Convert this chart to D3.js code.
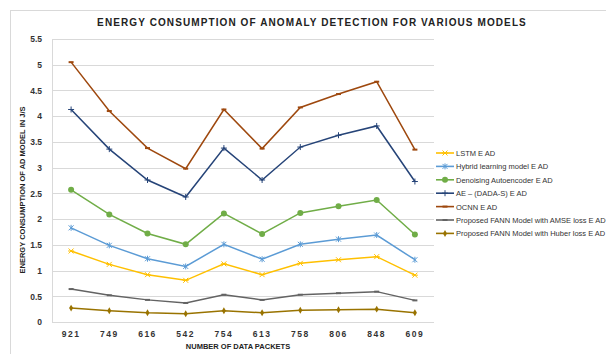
<!DOCTYPE html>
<html>
<head>
<meta charset="utf-8">
<script src="https://cdnjs.cloudflare.com/ajax/libs/d3/7.8.5/d3.min.js"></script>
<style>
  body { margin: 0; background: #fff; }
  svg { font-family: "Liberation Sans", Arial, sans-serif; }
</style>
</head>
<body>
<div id="chart"></div>
<script>
// data
const packets = ["921", "749", "616", "542", "754", "613", "758", "806", "848", "609"];
const lstm     = [1.38, 1.12, 0.92, 0.81, 1.13, 0.92, 1.14, 1.21, 1.27, 0.91];
const hybrid   = [1.83, 1.49, 1.23, 1.08, 1.51, 1.22, 1.51, 1.61, 1.69, 1.21];
const denoise  = [2.57, 2.09, 1.72, 1.51, 2.11, 1.71, 2.12, 2.25, 2.37, 1.70];
const aeDada   = [4.13, 3.36, 2.76, 2.43, 3.38, 2.76, 3.40, 3.63, 3.81, 2.73];
const ocnn     = [5.05, 4.10, 3.38, 2.98, 4.13, 3.37, 4.17, 4.43, 4.67, 3.35];
const fannAmse = [0.64, 0.52, 0.43, 0.37, 0.53, 0.43, 0.53, 0.56, 0.59, 0.42];
const fannHub  = [0.27, 0.22, 0.18, 0.16, 0.22, 0.18, 0.23, 0.24, 0.25, 0.18];
const yTicks = [0, 0.5, 1, 1.5, 2, 2.5, 3, 3.5, 4, 4.5, 5, 5.5];

const series = [
  { name: "LSTM E AD", values: lstm, color: "#ffc000", marker: "x" },
  { name: "Hybrid learning model E AD", values: hybrid, color: "#5b9bd5", marker: "star" },
  { name: "Denoising Autoencoder E AD", values: denoise, color: "#70ad47", marker: "circle" },
  { name: "AE – (DADA-S) E AD", values: aeDada, color: "#264478", marker: "plus" },
  { name: "OCNN E AD", values: ocnn, color: "#9e480e", marker: "dash" },
  { name: "Proposed FANN Model with AMSE loss E AD", values: fannAmse, color: "#636363", marker: "dash" },
  { name: "Proposed FANN Model with Huber loss E AD", values: fannHub, color: "#997300", marker: "diamond" }
];

const W = 606, H = 354;
const margin = { left: 52, right: 172, top: 39, bottom: 32 };
const width = W - margin.left - margin.right;
const height = H - margin.top - margin.bottom;

const svg = d3.select("#chart").append("svg")
  .attr("width", W)
  .attr("height", H);

// outer frame
svg.append("rect")
  .attr("x", 10.5).attr("y", 10.5)
  .attr("width", 620).attr("height", 400)
  .attr("fill", "none")
  .attr("stroke", "#d9d9d9");

svg.append("text")
  .attr("x", 312).attr("y", 26)
  .attr("text-anchor", "middle")
  .attr("font-size", "10px")
  .attr("font-weight", "bold")
  .attr("letter-spacing", "1.1px")
  .attr("fill", "#222")
  .text("ENERGY CONSUMPTION OF ANOMALY DETECTION FOR VARIOUS MODELS");

const g = svg.append("g")
  .attr("transform", "translate(" + margin.left + "," + margin.top + ")");

const x = d3.scaleBand().domain(packets).range([0, width]);
const y = d3.scaleLinear().domain([0, 5.5]).range([height, 0]);

// grid lines
g.append("g")
  .selectAll("line")
  .data(yTicks)
  .enter().append("line")
    .attr("x1", 0).attr("x2", width)
    .attr("y1", d => Math.round(y(d)) + 0.5)
    .attr("y2", d => Math.round(y(d)) + 0.5)
    .attr("stroke", "#d9d9d9");

// y axis
const yAxis = g.append("g")
  .call(d3.axisLeft(y).tickValues(yTicks).tickSize(0).tickPadding(10).tickFormat(d => d));
yAxis.select(".domain").remove();
yAxis.selectAll("text")
  .attr("font-size", "8.5px")
  .attr("font-weight", "bold")
  .attr("fill", "#333")
  .attr("font-family", "Liberation Sans, Arial, sans-serif");

// left axis line
g.append("line")
  .attr("x1", 0.5).attr("x2", 0.5)
  .attr("y1", 0).attr("y2", height)
  .attr("stroke", "#d9d9d9");

// x axis
const xAxis = g.append("g")
  .attr("transform", "translate(0," + height + ")")
  .call(d3.axisBottom(x).tickSize(0).tickPadding(9));
xAxis.select(".domain").remove();
xAxis.selectAll("text")
  .attr("font-size", "8.5px")
  .attr("font-weight", "bold")
  .attr("letter-spacing", "1.5px")
  .attr("fill", "#333")
  .attr("font-family", "Liberation Sans, Arial, sans-serif");

// axis titles
svg.append("text")
  .attr("x", 238).attr("y", 349)
  .attr("text-anchor", "middle")
  .attr("font-size", "7.5px")
  .attr("font-weight", "bold")
  .attr("fill", "#222")
  .text("NUMBER OF DATA PACKETS");

svg.append("text")
  .attr("transform", "translate(25,190) rotate(-90)")
  .attr("text-anchor", "middle")
  .attr("font-size", "7.5px")
  .attr("font-weight", "bold")
  .attr("fill", "#222")
  .text("ENERGY CONSUMPTION OF AD MODEL IN J/S");

const line = d3.line()
  .x((d, i) => x(packets[i]) + x.bandwidth() / 2)
  .y(d => y(d));

function drawMarker(sel, type, color) {
  if (type === "circle") {
    sel.append("circle").attr("r", 3).attr("fill", color);
  } else if (type === "x") {
    sel.append("path").attr("d", "M-2.5,-2.5L2.5,2.5M-2.5,2.5L2.5,-2.5M-3,0L3,0")
      .attr("stroke", color).attr("stroke-width", 1);
  } else if (type === "star") {
    sel.append("path").attr("d", "M-2.5,-2.5L2.5,2.5M-2.5,2.5L2.5,-2.5M0,-3L0,3")
      .attr("stroke", color).attr("stroke-width", 1);
  } else if (type === "plus") {
    sel.append("path").attr("d", "M-3,0L3,0M0,-3L0,3")
      .attr("stroke", color).attr("stroke-width", 1);
  } else if (type === "dash") {
    sel.append("path").attr("d", "M-2.5,0L2.5,0")
      .attr("stroke", color).attr("stroke-width", 2);
  } else if (type === "diamond") {
    sel.append("path").attr("d", d3.symbol(d3.symbolDiamond, 14)())
      .attr("fill", color);
  }
}

series.forEach(function(s) {
  g.append("path")
    .datum(s.values)
    .attr("fill", "none")
    .attr("stroke", s.color)
    .attr("stroke-width", 1.5)
    .attr("d", line);

  s.values.forEach(function(v, i) {
    const m = g.append("g")
      .attr("transform", "translate(" + (x(packets[i]) + x.bandwidth() / 2) + "," + y(v) + ")");
    drawMarker(m, s.marker, s.color);
  });
});

// legend
const legend = svg.append("g").attr("transform", "translate(436,153)");
series.forEach(function(s, i) {
  const row = legend.append("g").attr("transform", "translate(0," + (i * 13.4) + ")");
  row.append("line")
    .attr("x1", 0).attr("x2", 18)
    .attr("stroke", s.color).attr("stroke-width", 1.6);
  const m = row.append("g").attr("transform", "translate(9,0)");
  drawMarker(m, s.marker, s.color);
  row.append("text")
    .attr("x", 20).attr("y", 3)
    .attr("font-size", "7.5px")
    .attr("fill", "#333")
    .text(s.name);
});
</script>
</body>
</html>
